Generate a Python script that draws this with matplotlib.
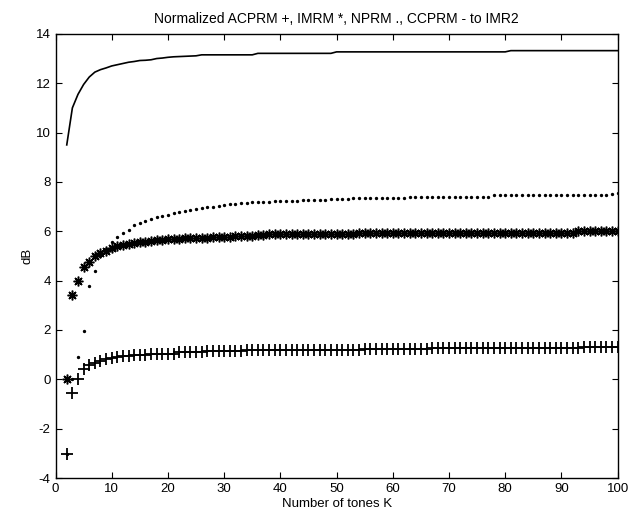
import matplotlib
matplotlib.use('Agg')
import matplotlib.pyplot as plt

plt.rcParams['font.family'] = ['Liberation Sans', 'DejaVu Sans']
plt.rcParams['axes.unicode_minus'] = False

# number of tones K
tones = list(range(2, 101))

acprm = [-3.03, -0.54, 0.00, 0.40, 0.57, 0.67, 0.75, 0.82, 0.87, 0.90,
         0.93, 0.95, 0.97, 0.98, 1.00, 1.01, 1.02, 1.03, 1.04, 1.04,
         1.11, 1.11, 1.12, 1.12, 1.12, 1.13, 1.13, 1.13, 1.13, 1.14,
         1.14, 1.14, 1.18, 1.18, 1.18, 1.18, 1.19, 1.19, 1.19, 1.19,
         1.19, 1.19, 1.19, 1.20, 1.20, 1.20, 1.20, 1.20, 1.20, 1.20,
         1.20, 1.20, 1.20, 1.21, 1.21, 1.21, 1.21, 1.21, 1.21, 1.21,
         1.21, 1.21, 1.21, 1.21, 1.21, 1.28, 1.28, 1.28, 1.28, 1.28,
         1.28, 1.28, 1.28, 1.28, 1.28, 1.28, 1.28, 1.28, 1.28, 1.28,
         1.28, 1.28, 1.28, 1.28, 1.28, 1.28, 1.28, 1.28, 1.28, 1.28,
         1.28, 1.28, 1.29, 1.29, 1.29, 1.29, 1.29, 1.29, 1.29]

imrm = [0.00, 3.40, 3.98, 4.57, 4.75, 4.98, 5.11, 5.22, 5.31, 5.39,
        5.45, 5.49, 5.53, 5.56, 5.58, 5.60, 5.63, 5.65, 5.67, 5.69,
        5.70, 5.71, 5.72, 5.72, 5.73, 5.74, 5.76, 5.77, 5.78, 5.78,
        5.79, 5.79, 5.80, 5.80, 5.84, 5.86, 5.87, 5.88, 5.88, 5.88,
        5.89, 5.89, 5.89, 5.89, 5.89, 5.90, 5.90, 5.90, 5.90, 5.90,
        5.90, 5.90, 5.91, 5.92, 5.92, 5.92, 5.92, 5.92, 5.92, 5.92,
        5.92, 5.92, 5.92, 5.92, 5.92, 5.92, 5.92, 5.92, 5.92, 5.92,
        5.92, 5.92, 5.92, 5.92, 5.92, 5.92, 5.92, 5.92, 5.92, 5.92,
        5.93, 5.93, 5.93, 5.93, 5.93, 5.93, 5.93, 5.93, 5.93, 5.93,
        5.94, 6.01, 6.02, 6.02, 6.02, 6.02, 6.02, 6.02, 6.00]

nprm = [-3.03, 0.00, 0.90, 1.95, 3.80, 4.40, 5.00, 5.30, 5.55, 5.75,
        5.93, 6.05, 6.25, 6.32, 6.42, 6.48, 6.57, 6.62, 6.67, 6.72,
        6.77, 6.83, 6.87, 6.91, 6.93, 6.97, 7.00, 7.03, 7.07, 7.09,
        7.11, 7.13, 7.16, 7.17, 7.20, 7.18, 7.20, 7.23, 7.23, 7.23,
        7.22, 7.24, 7.28, 7.28, 7.27, 7.27, 7.28, 7.31, 7.32, 7.31,
        7.32, 7.33, 7.33, 7.33, 7.34, 7.34, 7.34, 7.34, 7.35, 7.35,
        7.35, 7.38, 7.38, 7.38, 7.38, 7.38, 7.38, 7.38, 7.38, 7.38,
        7.38, 7.38, 7.38, 7.38, 7.38, 7.38, 7.45, 7.45, 7.45, 7.45,
        7.45, 7.45, 7.45, 7.45, 7.45, 7.45, 7.45, 7.45, 7.45, 7.45,
        7.45, 7.45, 7.45, 7.46, 7.47, 7.48, 7.48, 7.50, 7.56]

ccprm = [9.50, 11.00, 11.55, 11.95, 12.25, 12.45, 12.55, 12.62, 12.70, 12.75,
         12.80, 12.85, 12.88, 12.92, 12.93, 12.95, 13.00, 13.02, 13.05, 13.07,
         13.08, 13.09, 13.10, 13.11, 13.15, 13.15, 13.15, 13.15, 13.15, 13.15,
         13.15, 13.15, 13.15, 13.15, 13.21, 13.21, 13.21, 13.21, 13.21, 13.21,
         13.21, 13.21, 13.21, 13.21, 13.21, 13.21, 13.21, 13.21, 13.27, 13.27,
         13.27, 13.27, 13.27, 13.27, 13.27, 13.27, 13.27, 13.27, 13.27, 13.27,
         13.27, 13.27, 13.27, 13.27, 13.27, 13.27, 13.27, 13.27, 13.27, 13.27,
         13.27, 13.27, 13.27, 13.27, 13.27, 13.27, 13.27, 13.27, 13.27, 13.32,
         13.32, 13.32, 13.32, 13.32, 13.32, 13.32, 13.32, 13.32, 13.32, 13.32,
         13.32, 13.32, 13.32, 13.32, 13.32, 13.32, 13.32, 13.32, 13.32]

xticks = [0, 10, 20, 30, 40, 50, 60, 70, 80, 90, 100]
yticks = [-4, -2, 0, 2, 4, 6, 8, 10, 12, 14]

fig = plt.figure(figsize=(6.33, 5.25), dpi=100)
ax = fig.add_axes([0.0877, 0.0895, 0.888, 0.846])

ax.plot(tones, acprm, '+', color='k', markersize=8.5, mew=1.3)
ax.plot(tones, imrm, color='k', ls='none', marker=(8, 2, 0), markersize=7, mew=1.1)
ax.plot(tones, nprm, '.', color='k', markersize=2.8)
ax.plot(tones, ccprm, '-', color='k', lw=1.2)

ax.set_xlim(0, 100)
ax.set_ylim(-4, 14)
ax.set_xticks(xticks)
ax.set_yticks(yticks)
ax.tick_params(direction='in', top=True, right=True, length=4, labelsize=9.5)
for s in ax.spines.values():
    s.set_linewidth(1.0)

ax.set_xlabel('Number of tones K', fontsize=9.5, labelpad=2)
ax.set_ylabel('dB', fontsize=9.5, labelpad=2)
ax.set_title('Normalized ACPRM +, IMRM *, NPRM ., CCPRM - to IMR2', fontsize=10, pad=8)

fig.savefig('out.png', dpi=100)
